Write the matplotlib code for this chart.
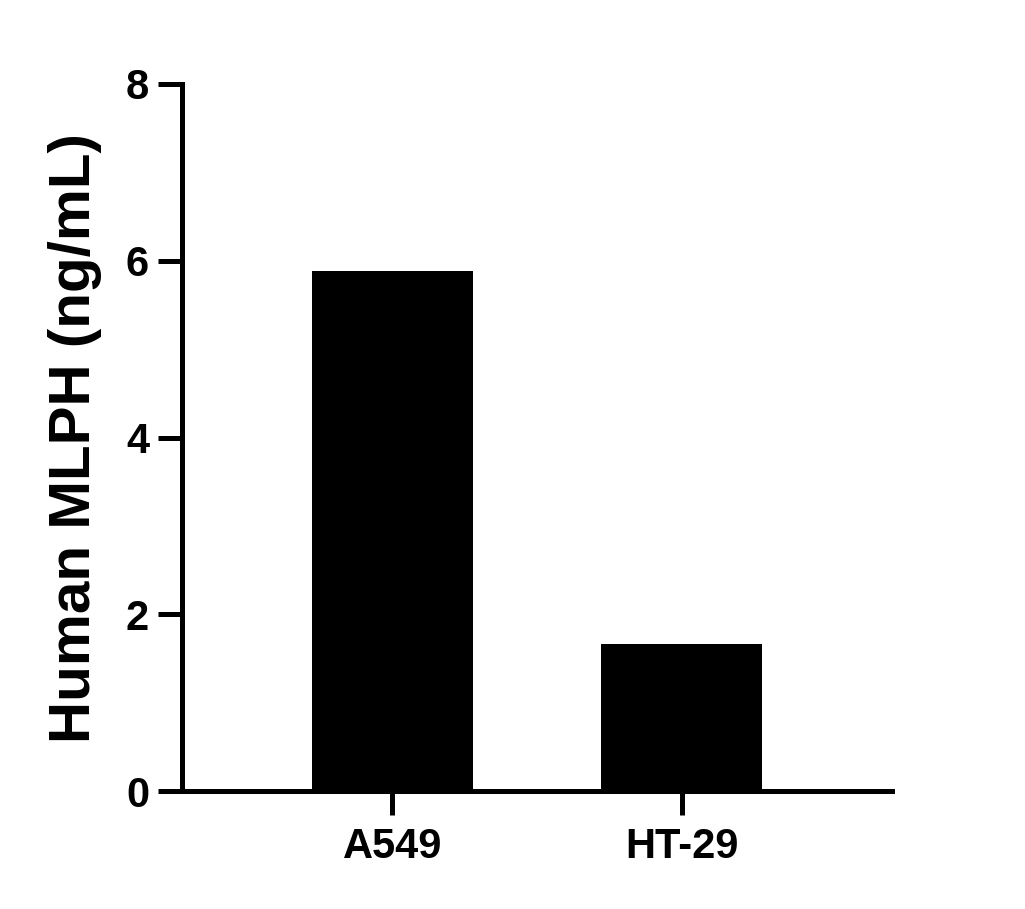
import matplotlib
matplotlib.use('Agg')
from matplotlib import pyplot as plt

# data
cell_lines = ['A549', 'HT-29']
mlph_ng_ml = [5.89, 1.67]
y_ticks = [0, 2, 4, 6, 8]

plt.rcParams['font.family'] = ['Liberation Sans', 'DejaVu Sans']
plt.rcParams['font.weight'] = 'bold'

fig = plt.figure(figsize=(10.25, 9.09), dpi=100)
ax = fig.add_axes([0.178, 0.1295, 0.692, 0.7781])

x_pos = list(range(len(cell_lines)))
ax.bar(x_pos, mlph_ng_ml, width=0.556, color='black', edgecolor='black', linewidth=0)

ax.set_xlim(-0.725, 1.725)
ax.set_ylim(0, 8)
ax.set_xticks(x_pos)
ax.set_xticklabels(cell_lines)
ax.set_yticks(y_ticks)

for side in ['top', 'right']:
    ax.spines[side].set_visible(False)
for side in ['left', 'bottom']:
    ax.spines[side].set_linewidth(3.6)
    ax.spines[side].set_capstyle('projecting')

ax.tick_params(axis='both', length=17.5, width=3.6, labelsize=30)
ax.tick_params(axis='x', pad=8)
ax.tick_params(axis='y', pad=6.5)
for lbl in ax.get_xticklabels() + ax.get_yticklabels():
    lbl.set_fontweight('bold')

ax.set_ylabel('Human MLPH (ng/mL)', fontsize=42, fontweight='bold')
ax.yaxis.set_label_coords(-0.113, 0.5)

plt.savefig('out.png', dpi=100)
